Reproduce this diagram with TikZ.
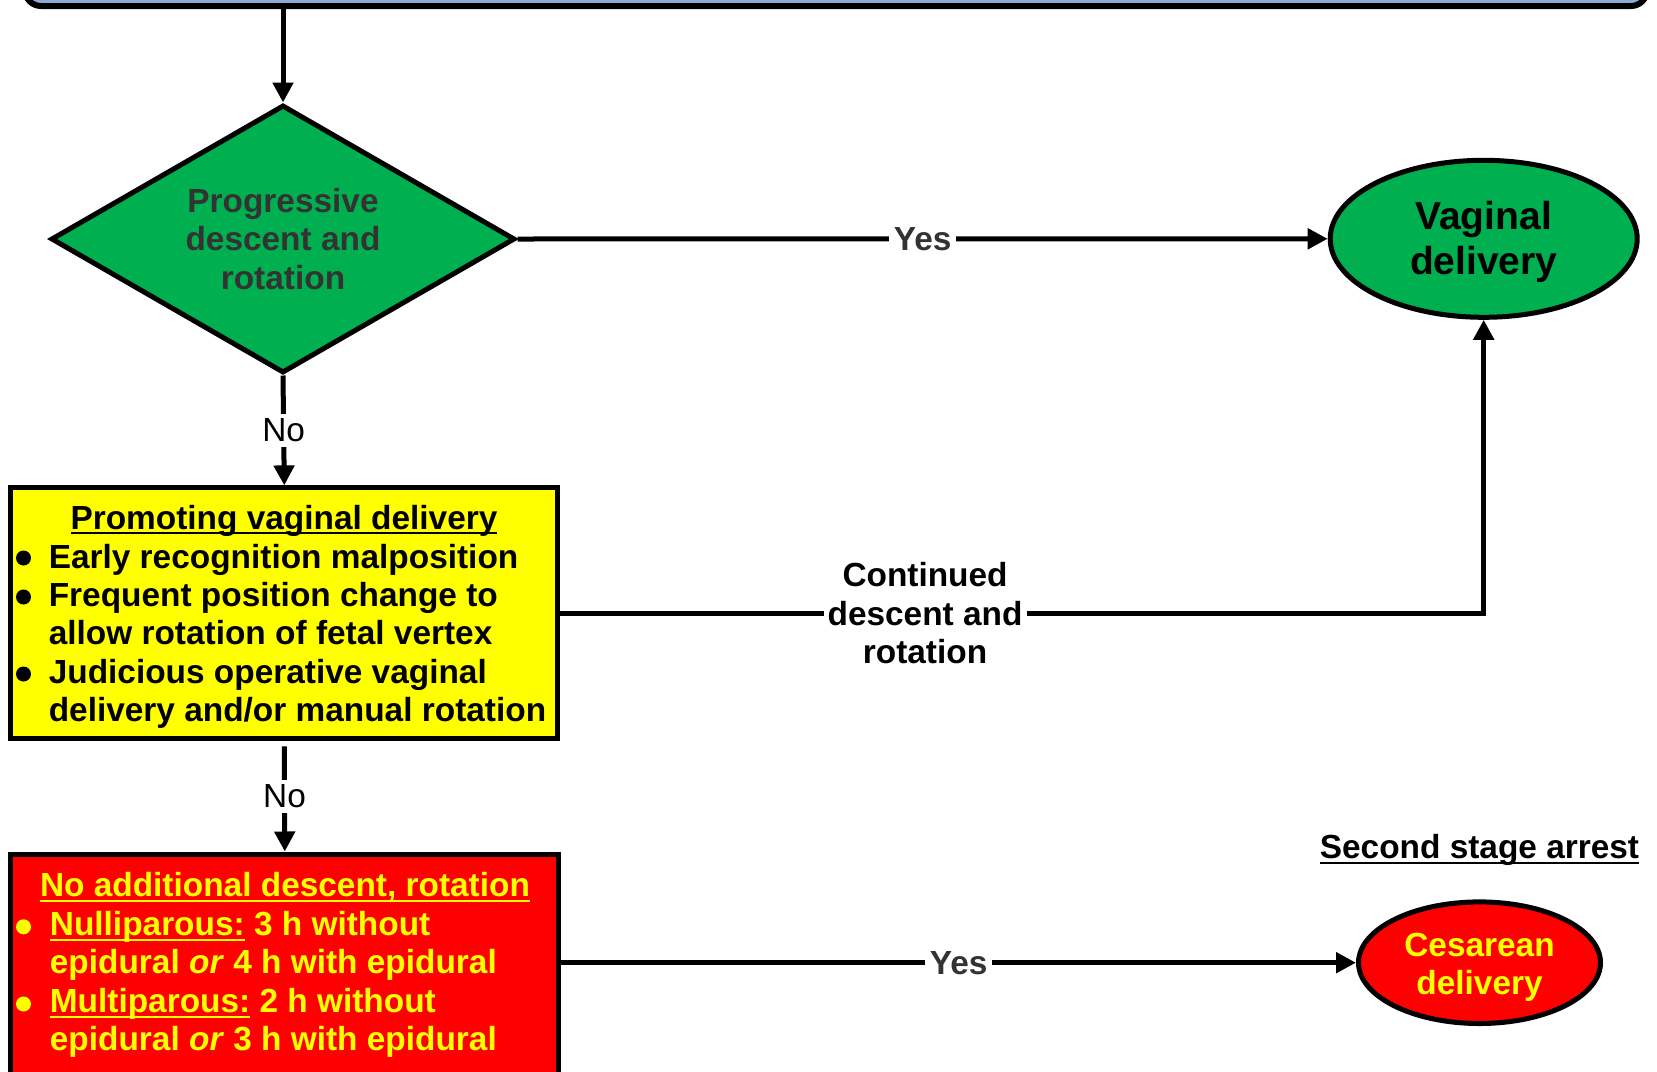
\documentclass[tikz,border=0pt]{standalone}
\usepackage{fontspec}
\setmainfont{Liberation Sans}
\usetikzlibrary{shapes.geometric,arrows.meta}
\definecolor{topblue}{RGB}{142,170,210}
\definecolor{dgreen}{RGB}{0,176,80}
\definecolor{dgray}{RGB}{51,51,51}
\definecolor{ylw}{RGB}{255,255,0}
\newcommand\ulx[1]{\setbox0\hbox{#1}\rlap{\rule[-5pt]{\wd0}{2pt}}\box0\relax}
\newcommand\fs{\fontsize{33.4}{38.5}\selectfont}
\begin{document}
\begin{tikzpicture}[x=1pt,y=-1pt,
  conn/.style={line width=5pt,-{Triangle[length=20pt,width=20pt]}},
  lbl/.style={fill=white,inner sep=5pt,font=\fs},
  boxline/.style={draw,line width=5pt,inner sep=0},
  txt/.style={anchor=base west,inner sep=0,font=\fs\bfseries},
  bul/.style={circle,fill,minimum size=15pt,inner sep=0}]
\useasboundingbox (0,0) rectangle (1657,1071);
\clip (0,0) rectangle (1657,1071);
% top box
\node[draw,line width=6pt,fill=topblue,rounded corners=16pt,minimum width=1622pt,minimum height=70pt,inner sep=0] (top) at (836,-29) {};
% decision
\node[boxline,fill=dgreen,diamond,aspect=1.73,minimum width=464pt,minimum height=268pt,text=dgray,font=\fs\bfseries,align=center] (dia) at (283,239) {Progressive\\descent and\\rotation};
% outcomes
\node[boxline,fill=dgreen,ellipse,minimum width=307pt,minimum height=157pt,font=\fontsize{39}{45.5}\selectfont\bfseries,align=center] (vag) at (1483.7,238.8) {};
\node[font=\fontsize{39}{45.5}\selectfont\bfseries,align=center,inner sep=0] (vagt) at (1483.7,241.8) {Vaginal\\delivery};
\node[boxline,fill=red,ellipse,minimum width=242pt,minimum height=121.6pt] (ces) at (1479.5,962.7) {};
\node[text=ylw,font=\fs\bfseries,align=center,inner sep=0] (cest) at (1479.5,967.2) {Cesarean\\delivery};
% yellow box
\node[boxline,fill=ylw,minimum width=547pt,minimum height=251pt] (pvd) at (284.3,613.4) {};
\node[anchor=base,inner sep=0,font=\fs\bfseries] (pt) at (284,529) {\ulx{Promoting vaginal delivery}};
\node[bul] (pb1) at (23.5,558) {};
\node[txt] (p1) at (48.6,568) {Early recognition malposition};
\node[bul] (pb2) at (23.5,597) {};
\node[txt] (p2) at (48.6,606) {Frequent position change to};
\node[txt] (p3) at (48.6,644) {allow rotation of fetal vertex};
\node[bul] (pb3) at (23.5,674) {};
\node[txt] (p4) at (48.6,683) {Judicious operative vaginal};
\node[txt] (p5) at (48.6,721) {delivery and/or manual rotation};
% red box
\node[boxline,fill=red,minimum width=548pt,minimum height=240pt] (nad) at (284.8,974) {};
\node[anchor=base,inner sep=0,font=\fs\bfseries,text=ylw] (nt) at (285,896.5) {\ulx{No additional descent, rotation}};
\node[bul,fill=ylw] (nb1) at (23.5,926.8) {};
\node[txt,text=ylw] (n1) at (49.7,935.6) {\ulx{Nulliparous:} 3 h without};
\node[txt,text=ylw] (n2) at (49.7,973.7) {epidural \textit{or} 4 h with epidural};
\node[bul,fill=ylw] (nb2) at (23.5,1004) {};
\node[txt,text=ylw] (n3) at (49.7,1012.8) {\ulx{Multiparous:} 2 h without};
\node[txt,text=ylw] (n4) at (49.7,1050.8) {epidural \textit{or} 3 h with epidural};
% heading
\node[anchor=base,inner sep=0,font=\fs\bfseries] (ssa) at (1479.5,858.5) {\ulx{Second stage arrest}};
% connectors
\draw[conn] (dia.north |- top.south) -- (dia.north);
\draw[conn] (dia.east) -- node[lbl,text=dgray,font=\fs\bfseries] (yes1) {Yes} (vag.west);
\draw[conn] (dia.south) -- node[lbl] (no1) {No} (pvd.north);
\draw[conn] (pvd.east) -- node[lbl,pos=0.395,inner sep=4pt,font=\fs\bfseries,align=center] (cont) {Continued\\descent and\\rotation} (vag.south |- pvd.east) -- (vag.south);
\draw[conn,shorten <=5pt] (pvd.south) -- node[lbl] (no2) {No} (nad.north);
\draw[conn] (nad.east |- ces.west) -- node[lbl,text=dgray,font=\fs\bfseries] (yes2) {Yes} (ces.west);
\end{tikzpicture}
\end{document}
